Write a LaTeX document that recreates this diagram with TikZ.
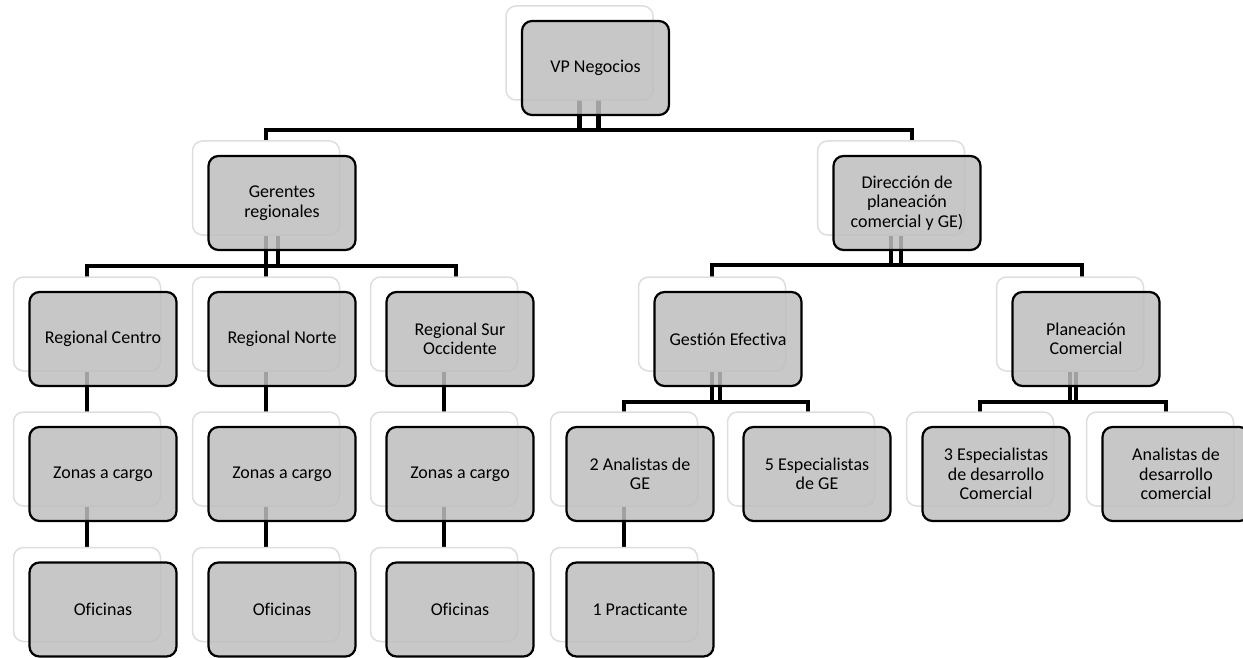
\documentclass[tikz,border=0pt]{standalone}
\usepackage{fontspec}
\setmainfont[Ligatures=NoCommon]{Carlito}
\usepackage{tikz}

\pgfdeclarelayer{bg}
\pgfsetlayers{bg,main}

\definecolor{boxgray}{RGB}{190,190,190}
\definecolor{ghostline}{RGB}{222,222,222}

\tikzset{
  orgmain/.style={draw=black, line width=2.2pt, rounded corners=10pt,
    fill=boxgray, fill opacity=0.85, text opacity=1,
    minimum width=147pt, minimum height=94pt, align=center,
    font=\fontsize{18}{19.5}\selectfont},
  orgghost/.style={draw=ghostline, line width=1.5pt, rounded corners=10pt,
    fill=white, minimum width=147pt, minimum height=94pt},
  link/.style={line width=4.5pt, black}
}

% ghost card behind, grey card in front
\newcommand{\orgbox}[4]{%
\node[orgghost] (#1g) at (#2-16,#3-15) {};%
\node[orgmain] (#1) at (#2,#3) {#4};%
}

\begin{document}
\begin{tikzpicture}[x=1pt, y=-1pt]%
\useasboundingbox (0,0) rectangle (1243,658);%
% level 1 and 2
\orgbox{vp}{595.5}{68}{VP Negocios}%
\orgbox{gerentes}{282}{203}{Gerentes\\regionales}%
\orgbox{direccion}{907}{203}{Dirección de\\planeación\\comercial y GE)}%
% level 3
\orgbox{rcentro}{103}{339}{Regional Centro}%
\orgbox{rnorte}{282}{339}{Regional Norte}%
\orgbox{rsur}{460}{339}{Regional Sur\\Occidente}%
\orgbox{gestion}{728}{339}{Gestión Efectiva}%
\orgbox{planeacion}{1086}{339}{Planeación\\Comercial}%
% level 4
\orgbox{zcentro}{103}{474}{Zonas a cargo}%
\orgbox{znorte}{282}{474}{Zonas a cargo}%
\orgbox{zsur}{460}{474}{Zonas a cargo}%
\orgbox{analistas}{640}{474}{2 Analistas de\\GE}%
\orgbox{especialistas}{817}{474}{5 Especialistas\\de GE}%
\orgbox{espdes}{996}{474}{3 Especialistas\\de desarrollo\\Comercial}%
\orgbox{anades}{1176}{474}{Analistas de\\desarrollo\\comercial}%
% level 5
\orgbox{ocentro}{103}{609.5}{Oficinas}%
\orgbox{onorte}{282}{609.5}{Oficinas}%
\orgbox{osur}{460}{609.5}{Oficinas}%
\orgbox{practicante}{640}{609.5}{1 Practicante}%
% connectors, behind the cards
\begin{pgfonlayer}{bg}%
\draw[link] ([xshift=19pt]vpg.center) -- ++(0,77) -| (gerentesg.center);%
\draw[link] (vpg.center) -- ++(0,77) -| ([xshift=5pt]direccion.center);%
\draw[link] ([xshift=12pt]gerentesg.center) -- ++(0,78) -| (rcentrog.center);%
\draw[link] (gerentesg.center) -- (rnorteg.center);%
\draw[link] (gerentesg.center) -- ++(0,78) -| ([xshift=-4pt]rsur.center);%
\draw[link] ([xshift=10pt]direcciong.center) -- ++(0,77) -| (gestiong.center);%
\draw[link] (direcciong.center) -- ++(0,77) -| ([xshift=-4pt]planeacion.center);%
\draw[link] (rcentrog.center) -- (zcentrog.center) -- (ocentrog.center);%
\draw[link] (rnorteg.center) -- (znorteg.center) -- (onorteg.center);%
\draw[link] (rsurg.center) -- (zsurg.center) -- (osurg.center);%
\draw[link] ([xshift=8pt]gestiong.center) -- ++(0,78) -| (analistasg.center);%
\draw[link] (gestiong.center) -- ++(0,78) -| ([xshift=-9pt]especialistas.center);%
\draw[link] (analistasg.center) -- (practicanteg.center);%
\draw[link] ([xshift=6pt]planeaciong.center) -- ++(0,78) -| (espdesg.center);%
\draw[link] (planeaciong.center) -- ++(0,78) -| ([xshift=-10pt]anades.center);%
\end{pgfonlayer}%
\end{tikzpicture}
\end{document}
